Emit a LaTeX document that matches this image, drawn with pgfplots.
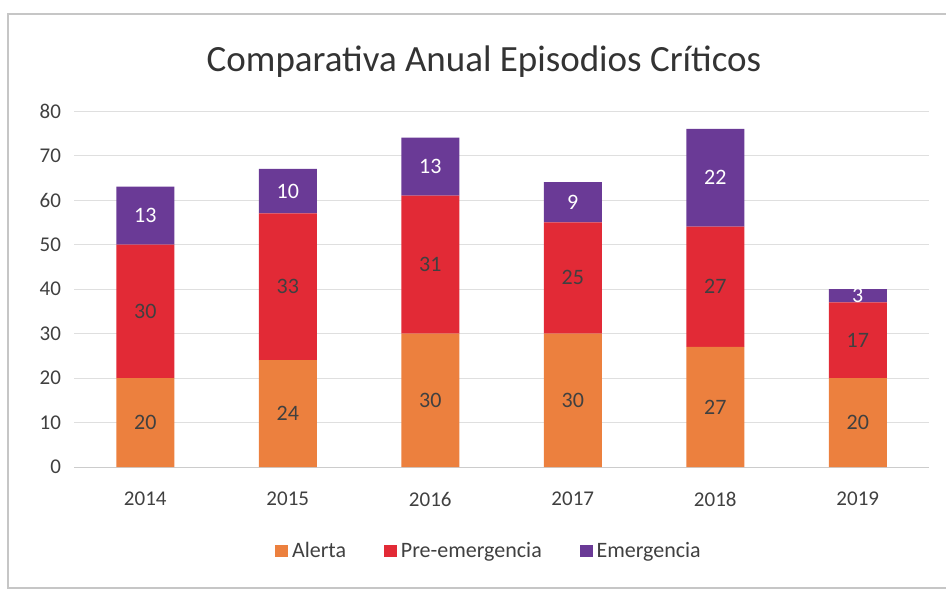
\documentclass[border=0pt]{standalone}
\usepackage{pgfplots}
\pgfplotsset{compat=1.18}
\usepackage{fontspec}
\setmainfont{Carlito}

\definecolor{alerta}{RGB}{236,128,62}
\definecolor{preem}{RGB}{226,42,54}
\definecolor{emerg}{RGB}{106,58,150}
\definecolor{txt}{RGB}{64,64,64}

\begin{document}
\begin{tikzpicture}
\useasboundingbox (-37pt,-61.5pt) rectangle (436pt,233.5pt);
\draw[gray!45, line width=0.6pt] (-33pt,-60.5pt) rectangle (445pt,226.5pt);
\begin{axis}[
    at={(0,0)}, anchor=south west,
    scale only axis,
    width=427.5pt, height=178pt,
    ybar stacked, bar width=29pt,
    xmin=-0.5, xmax=5.5,
    ymin=0, ymax=80,
    ytick={0,10,...,80},
    xtick=data,
    xticklabels={2014,2015,2016,2017,2018,2019},
    axis x line*=bottom,
    axis y line*=left,
    x axis line style={gray!40, -},
    y axis line style={draw=none},
    major tick length=0pt,
    ymajorgrids,
    grid style={gray!25, line width=0.5pt},
    yticklabel style={text=txt, font=\fontsize{10.5}{12}\selectfont},
    xticklabel style={text=txt, font=\fontsize{10.5}{12}\selectfont},
    /pgf/number format/assume math mode=true,
    /pgf/number format/1000 sep=,
    every y tick label/.append style={xshift=-3pt},
    every x tick label/.append style={yshift=-9pt},
    title={\fontsize{18.5}{22}\selectfont Comparativa Anual Episodios Críticos},
    title style={text=black!80, at={(205pt,202.5pt)}, anchor=center, yshift=-6pt},
    legend style={at={(208pt,-42pt)}, anchor=center, draw=none,
        legend columns=3, font=\fontsize{11}{13}\selectfont, text=txt,
        /tikz/every even column/.append style={column sep=17pt}},
    legend image code/.code={\fill[#1] (0pt,-3.2pt) rectangle (6.4pt,3.2pt);},
    nodes near coords,
    point meta=rawy,
    nodes near coords align={center},
    every node near coord/.append style={font=\fontsize{11}{13}\selectfont,
        /pgf/number format/assume math mode=true},
]
\addplot[fill=alerta, draw=none, nodes near coords style={text=txt}]
    coordinates {(0,20) (1,24) (2,30) (3,30) (4,27) (5,20)};
\addplot[fill=preem, draw=none, nodes near coords style={text=txt}]
    coordinates {(0,30) (1,33) (2,31) (3,25) (4,27) (5,17)};
\addplot[fill=emerg, draw=none, nodes near coords style={text=white}]
    coordinates {(0,13) (1,10) (2,13) (3,9) (4,22) (5,3)};
\legend{Alerta, Pre-emergencia, Emergencia}
\end{axis}
\end{tikzpicture}
\end{document}
